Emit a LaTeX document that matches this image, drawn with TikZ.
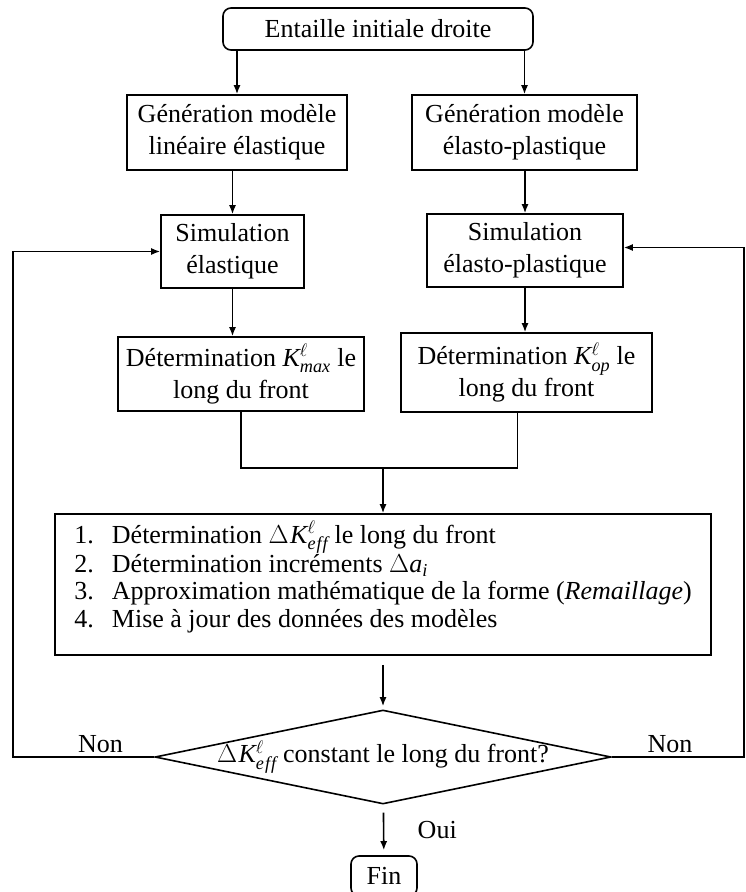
\RequirePackage{fix-cm}
\documentclass[tikz,border=0pt]{standalone}
\usepackage{fontspec}
\setmainfont{Liberation Serif}
\usetikzlibrary{arrows.meta,shapes.geometric}
\newcommand{\Keff}{\Delta\mkern1mu\mathit{K}^{\ell}_{\mathit{e}\mkern1mu\mathit{f}\mkern1mu\mathit{f}}}

\begin{document}
\begin{tikzpicture}[x = 1pt, y = -1pt, line width = 1.6pt,
		font = \fontsize{26}{32}\selectfont,
		box/.style = {draw, rectangle, align = center, inner sep = 0pt},
		rbox/.style = {box, rounded corners = 8pt},
		decision/.style = {draw, diamond, inner sep = 0pt},
		arr/.style = {-{Latex[length = 9pt, width = 7pt]}}]
		\useasboundingbox (0,0) rectangle (746,892);
		% boites
		\node[rbox, minimum width = 310pt, minimum height = 42pt] (start) at (378,29) {Entaille initiale droite};
		\node[box, minimum width = 220pt, minimum height = 75pt] (genlin) at (237,132.5) {Génération modèle\\linéaire élastique};
		\node[box, minimum width = 225pt, minimum height = 75pt] (genep) at (524.5,132.5) {Génération modèle\\élasto-plastique};
		\node[box, minimum width = 143pt, minimum height = 73pt] (simel) at (232.5,251.5) {Simulation\\élastique};
		\node[box, minimum width = 196pt, minimum height = 73pt] (simep) at (525,250.5) {Simulation\\élasto-plastique};
		\node[box, minimum width = 246pt, minimum height = 74pt] (detmax) at (241,374) {Détermination $\mathit{K}^{\ell}_{\mathit{max}}$ le\\long du front};
		\node[box, minimum width = 251pt, minimum height = 79pt] (detop) at (526.5,372.5) {Détermination $\mathit{K}^{\ell}_{\mathit{op}}$ le\\long du front};
		\node[box, align = left, minimum width = 656pt, minimum height = 141pt,
			font = \fontsize{26}{27.5}\selectfont] (calc) at (383,584.5)
			{\makebox[1.45em][l]{1.}Détermination $\Keff$ le long du front\\
			 \makebox[1.45em][l]{2.}Détermination incréments $\Delta\mathit{a}_{\mathit{i}}$\\
			 \makebox[1.45em][l]{3.}Approximation mathématique de la forme (\textit{Remaillage})\\
			 \makebox[1.45em][l]{4.}Mise à jour des données des modèles\\[-7pt]\mbox{}};
		\node[decision, minimum width = 456pt, minimum height = 94pt] (test) at (383,757)
			{\makebox[0pt]{$\Keff$ constant le long du front?}};
		\node[rbox, minimum width = 66pt, minimum height = 40pt] (fin) at (384,876) {Fin};
		\coordinate (join) at (383,468);
		\coordinate (loopL) at (13,757);
		\coordinate (loopR) at (744,757);
		% fleches
		\draw[arr] (start.south -| genlin) -- (genlin);
		\draw[arr] (start.south -| genep) -- (genep);
		\draw[arr] (genlin.south -| simel) -- (simel);
		\draw[arr] (genep.south -| simep) -- (simep);
		\draw[arr] (simel) -- (simel |- detmax.north);
		\draw[arr] (simep) -- (simep |- detop.north);
		\draw (detmax.south) |- (join);
		\draw ([xshift = -9pt]detop.south) |- (join);
		\draw[arr] (join) -- (calc);
		\draw[arr, shorten <= 9pt, shorten >= 3pt] (calc) -- (test);
		\draw[arr, shorten <= 8pt, shorten >= 5pt] (test) -- node[right = 30pt]{Oui} (fin);
		\draw[arr] (test.west) -- node[above, pos = 0.38]{Non} (loopL) |- (simel.west);
		\draw[arr] (test.east) -- node[above, pos = 0.44]{Non} (loopR) |- ([yshift = 3pt]simep.east);
	\end{tikzpicture}
\end{document}
